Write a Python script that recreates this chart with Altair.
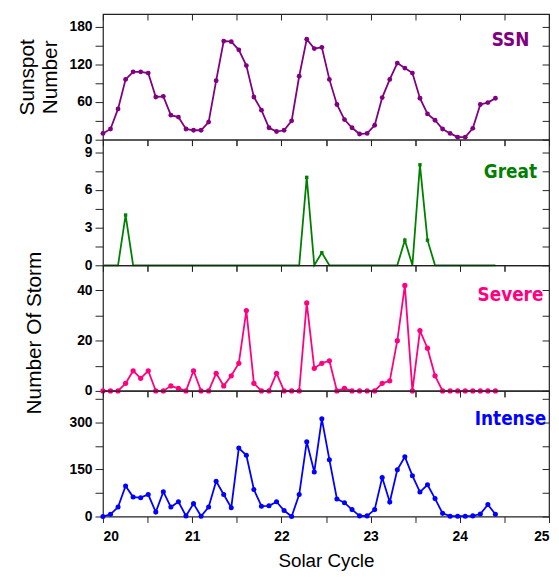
import altair as alt
import pandas as pd

# ---- data (one point per step along the solar-cycle axis) ----
x_start = 20.0
x_step = 0.0846

ssn = [10, 17, 49, 96, 108, 108, 106, 68, 69, 39, 36, 17, 15, 15, 28, 94, 157, 156, 143, 118,
       68, 47, 19, 13, 15, 30, 101, 160, 145, 147, 96, 56, 32, 19, 9, 10, 23, 67, 96, 122,
       114, 106, 66, 41, 31, 17, 10, 4, 4, 18, 56, 59, 66]
great = [0, 0, 0, 4, 0, 0, 0, 0, 0, 0, 0, 0, 0, 0, 0, 0, 0, 0, 0, 0,
         0, 0, 0, 0, 0, 0, 0, 7, 0, 1, 0, 0, 0, 0, 0, 0, 0, 0, 0, 0,
         2, 0, 8, 2, 0, 0, 0, 0, 0, 0, 0, 0, 0]
severe = [0, 0, 0, 3, 8, 5, 8, 0, 0, 2, 1, 0, 8, 0, 0, 7, 2, 6, 11, 32,
          3, 0, 0, 7, 0, 0, 0, 35, 9, 11, 12, 0, 1, 0, 0, 0, 0, 3, 4, 20,
          42, 0, 24, 17, 6, 0, 0, 0, 0, 0, 0, 0, 0]
intense = [0, 7, 30, 97, 62, 60, 70, 14, 79, 30, 47, 2, 41, 1, 30, 112, 70, 28, 218, 195,
           86, 33, 34, 47, 19, 0, 70, 238, 142, 311, 181, 56, 44, 22, 2, 2, 22, 124, 46, 149,
           190, 130, 78, 101, 57, 10, 1, 1, 1, 2, 8, 38, 7]

x_vals = [round(x_start + i * x_step, 4) for i in range(len(ssn))]
x_ticks = [20, 20.5, 21, 21.5, 22, 22.5, 23, 23.5, 24, 24.5, 25]

FONT = "Liberation Sans"
NARROW = "Liberation Sans Narrow, DejaVu Sans Condensed, Liberation Sans"
AX = "#222222"
W = 451
H = 127


def panel(values, color, ydomain, yticks, label_mod, label, label_y,
          title=None, title_pad=10, title_y=None, last=False, shape="circle", size=24,
          markers_nonzero_only=False):
    df = pd.DataFrame({"x": x_vals, "v": values})
    base = alt.Chart(df)
    xs = alt.Scale(domain=[20, 25], nice=False, zero=False)
    ys = alt.Scale(domain=ydomain, nice=False, zero=False)

    bottom_kw = dict(orient="bottom", values=x_ticks, tickSize=6, domain=False, grid=False,
                     tickColor=AX, tickWidth=1)
    if last:
        bottom_kw.update(labels=True,
                         labelExpr="datum.value % 1 === 0 ? format(datum.value, 'd') : ''",
                         labelFont=FONT, labelFontSize=14, labelFontWeight="bold",
                         labelColor="black", labelPadding=7,
                         title="Solar Cycle", titleFont=FONT, titleFontSize=19,
                         titleFontWeight="normal", titleColor="black", titlePadding=9)
    else:
        bottom_kw.update(labels=False, title=None)

    left_kw = dict(orient="left", values=yticks, tickSize=8, domain=False, grid=False,
                   tickColor=AX, labelPadding=3,
                   labelExpr="datum.value %% %s === 0 ? format(datum.value, 'd') : ''" % label_mod,
                   labelFont=FONT, labelFontSize=14, labelFontWeight="bold", labelColor="black")
    if title is not None:
        left_kw.update(title=title, titleFont=FONT, titleFontSize=21, titleFontWeight="normal",
                       titleColor="black", titlePadding=title_pad, titleLineHeight=23)
        if title_y is not None:
            left_kw.update(titleY=title_y)
    else:
        left_kw.update(title=None)

    line = base.mark_line(color=color, strokeWidth=1.8).encode(
        x=alt.X("x:Q", scale=xs, axis=alt.Axis(**bottom_kw)),
        y=alt.Y("v:Q", scale=ys, axis=alt.Axis(**left_kw)),
    )
    if shape == "circle":
        pts = base.mark_circle(color=color, size=size, opacity=1)
    else:
        pts = base.mark_square(color=color, size=size, opacity=1)
    if markers_nonzero_only:
        pts = pts.transform_filter("datum.v > 0")
    pts = pts.encode(
        x=alt.X("x:Q", scale=xs, axis=None),
        y=alt.Y("v:Q", scale=ys, axis=None),
    )
    mirror = base.mark_point(opacity=0).encode(
        x=alt.X("x:Q", scale=xs, axis=alt.Axis(orient="top", values=x_ticks, labels=False,
                                               tickSize=6, offset=-6, domain=False, grid=False,
                                               title=None, tickColor=AX)),
        y=alt.Y("v:Q", scale=ys, axis=alt.Axis(orient="right", values=yticks, labels=False,
                                               tickSize=7, offset=-7, domain=False, grid=False,
                                               title=None, tickColor=AX)),
    )
    txt = alt.Chart(pd.DataFrame({"t": [label]})).mark_text(
        align="center", baseline="alphabetic", font=NARROW, fontSize=19,
        fontWeight="bold", color=color,
    ).encode(text="t:N", x=alt.value(412), y=alt.value(label_y))

    return alt.layer(line, pts, mirror, txt).resolve_axis(
        x="independent", y="independent"
    ).properties(width=W, height=H)


p1 = panel(ssn, "#800080", [0, 200], [0, 30, 60, 90, 120, 150, 180], 60, "SSN", 32.5,
           title=["Sunspot", "Number"], title_pad=9)
p2 = panel(great, "#008000", [0, 10], [0, 1.5, 3, 4.5, 6, 7.5, 9], 3, "Great", 39,
           shape="square", size=12, markers_nonzero_only=True)
p3 = panel(severe, "#FF0080", [0, 50], [0, 10, 20, 30, 40], 20, "Severe", 36,
           title="Number Of Storm", title_pad=33, title_y=68, size=28)
p4 = panel(intense, "#0000FF", [0, 400], [0, 75, 150, 225, 300, 375], 150, "Intense", 34,
           last=True, size=26)

chart = alt.vconcat(p1, p2, p3, p4, spacing=0, bounds="flush").properties(
    padding={"left": 8, "top": 1, "right": 0, "bottom": 0}
).configure_view(stroke=AX, strokeWidth=1.2)

chart.save("out.html", embed_options={"renderer": "svg", "actions": False})
